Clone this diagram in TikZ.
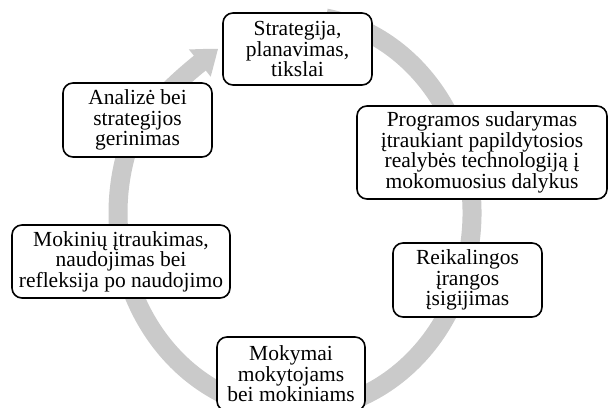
\documentclass[tikz,border=0pt]{standalone}
\usepackage{fontspec}
\setmainfont{Liberation Serif}
\usetikzlibrary{arrows.meta,bending,calc}
\definecolor{ringgray}{RGB}{202,202,202}
\tikzset{
  stage/.style={draw=black, line width=1.6pt, rounded corners=10pt, fill=white,
    align=center, inner sep=0pt, font=\fontsize{21.5}{20.5}\selectfont},
  ring/.style={draw=ringgray, line width=19pt}
}
\begin{document}
\begin{tikzpicture}[x=1pt,y=1pt]
\useasboundingbox (0,0) rectangle (612,407);
\coordinate (c) at (295,194);
\coordinate (tail) at ($(c)+(80:177 and 198)$);
\coordinate (tip) at (218,358);
\draw[ring, -{Triangle[width=34pt,length=22pt,bend]}] (tail) arc[start angle=80, end angle=-196.4, x radius=177, y radius=198]
  .. controls +(11.4,43.5) and ($(tip)+(-32,-24)$) .. (tip);
\node[stage, minimum width=149pt, minimum height=72pt] (s1) at (297.5,358) {Strategija,\\planavimas,\\tikslai};
\node[stage, minimum width=250pt, minimum height=93pt] (s2) at (482,254.5) {Programos sudarymas\\įtraukiant papildytosios\\realybės technologiją į\\mokomuosius dalykus};
\node[stage, minimum width=149pt, minimum height=74pt] (s3) at (467.5,127) {Reikalingos\\įrangos\\įsigijimas};
\node[stage, minimum width=148pt, minimum height=74pt] (s4) at (291,33) {Mokymai\\mokytojams\\bei mokiniams};
\node[stage, minimum width=218pt, minimum height=73pt] (s5) at (121,145.5) {Mokinių įtraukimas,\\naudojimas bei\\refleksija po naudojimo};
\node[stage, minimum width=149pt, minimum height=74pt] (s6) at (137.5,287) {Analizė bei\\strategijos\\gerinimas};
\end{tikzpicture}
\end{document}
